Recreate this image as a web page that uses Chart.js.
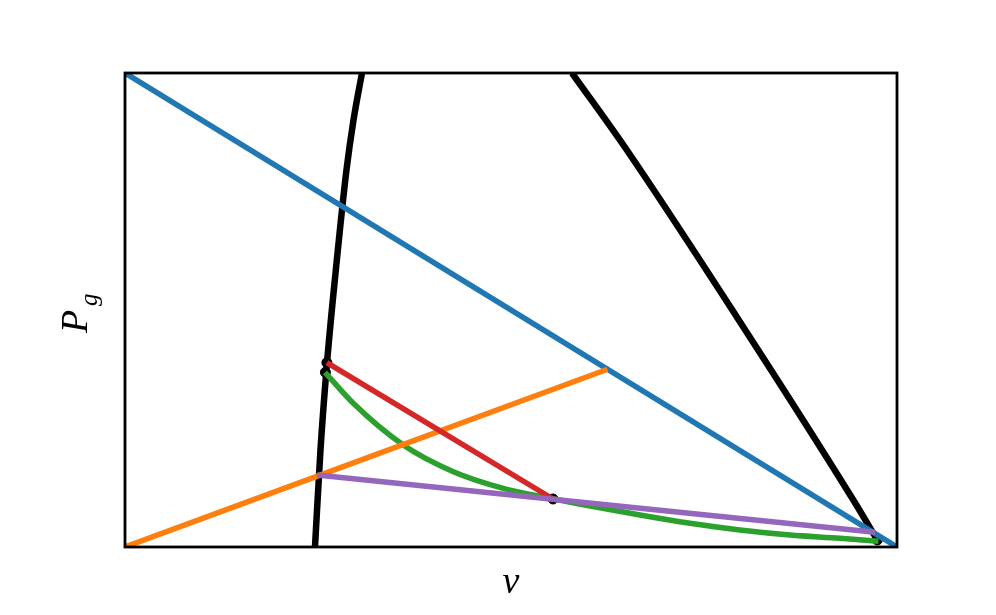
<!DOCTYPE html>
<html>
<head>
<meta charset="utf-8">
<script src="https://cdn.jsdelivr.net/npm/chart.js@4"></script>
<style>
    html, body { margin: 0; padding: 0; background: #fff; }
    #grafico { display: block; }
</style>
</head>
<body>
<canvas id="grafico" width="996" height="615"></canvas>
<script>
// Curva negra izquierda (v y P_g normalizados de 0 a 1).
const CURVA_IZQ_V = [0.2461, 0.2532, 0.2620, 0.2731, 0.2869, 0.2960, 0.3070];
const CURVA_IZQ_P = [0.0000, 0.2046, 0.3945, 0.5844, 0.7954, 0.9008, 1.0000];
// Curva negra derecha.
const CURVA_DER_V = [0.5790, 0.6500, 0.7923, 0.9434, 0.9745];
const CURVA_DER_P = [1.0000, 0.8376, 0.4859, 0.0992, 0.0148];
// Recta azul y recta naranja.
const AZUL_V = [0, 1];
const AZUL_P = [1, 0];
const NARANJA_V = [0, 0.625];
const NARANJA_P = [0, 0.375];
// Curva verde.
const VERDE_V = [0.2591, 0.2957, 0.3605, 0.4253, 0.4900, 0.5505, 0.6671, 0.7319, 0.7966, 0.8614, 0.9262, 0.9760];
const VERDE_P = [0.3686, 0.3032, 0.2152, 0.1589, 0.1238, 0.1027, 0.0675, 0.0500, 0.0359, 0.0253, 0.0184, 0.0120];
// Segmentos rojo y morado.
const ROJO_V = [0.2615, 0.5544];
const ROJO_P = [0.3890, 0.1013];
const MORADO_V = [0.2487, 0.9715];
const MORADO_P = [0.1519, 0.0310];
// Puntos marcados.
const PUNTOS_V = [0.2615, 0.2596, 0.5544, 0.9745];
const PUNTOS_P = [0.3890, 0.3686, 0.1013, 0.0148];

// Función para unir dos arreglos en puntos {x, y}.
const puntos = (xs, ys) => xs.map((x, i) => ({ x: x, y: ys[i] }));

// Función para crear una serie de línea.
const serie = (xs, ys, color, ancho, orden) => ({
    data: puntos(xs, ys),
    showLine: true,
    borderColor: color,
    borderWidth: ancho,
    borderCapStyle: 'butt',
    pointRadius: 0,
    cubicInterpolationMode: 'monotone',
    fill: false,
    order: orden
});

// Complemento para dibujar el marco y los títulos de los ejes.
const marcoYTitulos = {
    id: 'marcoYTitulos',
    afterDraw(chart) {
        const ctx = chart.ctx;
        const a = chart.chartArea;
        ctx.save();
        ctx.strokeStyle = '#000';
        ctx.lineWidth = 2.8;
        ctx.strokeRect(a.left, a.top, a.right - a.left, a.bottom - a.top);
        ctx.fillStyle = '#000';
        // Título del eje horizontal.
        ctx.font = 'italic 38px "Liberation Serif"';
        ctx.textAlign = 'center';
        ctx.textBaseline = 'alphabetic';
        ctx.fillText('v', (a.left + a.right) / 2, 593);
        // Título del eje vertical con subíndice.
        ctx.translate(87, 333);
        ctx.rotate(-Math.PI / 2);
        ctx.textAlign = 'left';
        ctx.fillText('P', 0, 0);
        ctx.font = 'italic 25px "Liberation Serif"';
        ctx.fillText('g', 27, 10);
        ctx.restore();
    }
};

document.addEventListener('DOMContentLoaded', () => {
    const ctx = document.getElementById('grafico').getContext('2d');
    new Chart(ctx, {
        type: 'scatter',
        data: {
            datasets: [
                serie(MORADO_V, MORADO_P, '#9467bd', 5.5, 0),
                serie(ROJO_V, ROJO_P, '#d62728', 5.5, 1),
                serie(NARANJA_V, NARANJA_P, '#ff7f0e', 5.5, 2),
                serie(VERDE_V, VERDE_P, '#2ca02c', 5.5, 3),
                serie(AZUL_V, AZUL_P, '#1f77b4', 5.5, 4),
                {
                    data: puntos(PUNTOS_V, PUNTOS_P),
                    showLine: false,
                    pointRadius: 5,
                    pointBackgroundColor: '#000',
                    pointBorderColor: '#000',
                    pointBorderWidth: 1,
                    order: 5
                },
                serie(CURVA_IZQ_V, CURVA_IZQ_P, '#000', 6.5, 6),
                serie(CURVA_DER_V, CURVA_DER_P, '#000', 6.5, 7)
            ]
        },
        options: {
            responsive: false,
            animation: false,
            layout: { padding: { left: 125, right: 99, top: 73, bottom: 68 } },
            plugins: {
                legend: { display: false },
                tooltip: { enabled: false }
            },
            scales: {
                x: { type: 'linear', min: 0, max: 1, display: false },
                y: { type: 'linear', min: 0, max: 1, display: false }
            }
        },
        plugins: [marcoYTitulos]
    });
});
</script>
</body>
</html>
